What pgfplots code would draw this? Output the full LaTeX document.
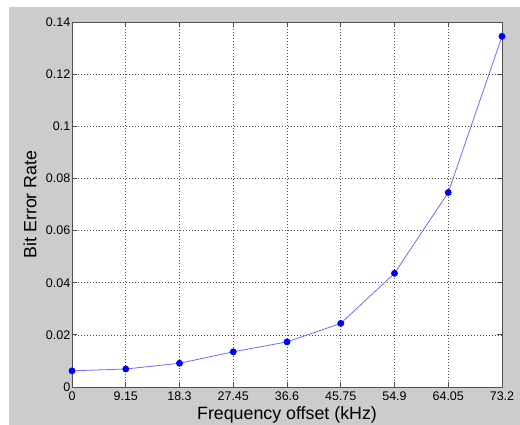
\documentclass[border=0pt]{standalone}
\usepackage{fontspec}
\setmainfont{Liberation Sans}
\usepackage{pgfplots}
\pgfplotsset{compat=1.18}
\definecolor{figgray}{RGB}{204,204,204}
\definecolor{axgray}{RGB}{80,80,80}
\definecolor{linblue}{RGB}{110,110,255}
\begin{document}
\begin{tikzpicture}[x=1pt,y=1pt]
\useasboundingbox (0,0) rectangle (520,425);
\fill[white] (0,0) rectangle (520,425);
\fill[figgray] (9,0) rectangle (520,418);
\begin{axis}[
  at={(72pt,38pt)}, anchor=south west,
  scale only axis, width=430pt, height=365pt,
  xmin=0, xmax=73.2, ymin=0, ymax=0.14,
  xtick={0,9.15,18.3,27.45,36.6,45.75,54.9,64.05,73.2},
  xticklabels={0,9.15,18.3,27.45,36.6,45.75,54.9,64.05,73.2},
  ytick={0,0.02,0.04,0.06,0.08,0.1,0.12,0.14},
  yticklabels={0,0.02,0.04,0.06,0.08,0.1,0.12,0.14},
  scaled y ticks=false,
  axis background/.style={fill=white},
  axis line style={axgray, line width=0.8pt},
  tick style={axgray, line width=0.8pt},
  tick align=inside, major tick length=5pt,
  grid=major,
  major grid style={axgray, line width=0.6pt, dash pattern=on 1.2pt off 1.8pt},
  tick label style={font=\fontsize{12.5}{14}\selectfont, text=black},
  xticklabel style={yshift=-1pt},
  yticklabel style={inner sep=1.5pt},
  xlabel={Frequency offset (kHz)},
  ylabel={Bit Error Rate},
  label style={font=\fontsize{17.8}{20}\selectfont},
  xlabel style={at={(axis description cs:0.5,-0.0767)}, anchor=center},
  ylabel style={at={(axis description cs:-0.0977,0.5)}, anchor=center},
]
\addplot[color=linblue, line width=0.8pt, mark=*, mark size=3pt,
  mark options={fill=blue, draw=blue}] coordinates {
(0,0.0062) (9.15,0.0069) (18.3,0.0091) (27.45,0.0135) (36.6,0.0173)
(45.75,0.0244) (54.9,0.0436) (64.05,0.0746) (73.2,0.1345)
};
\end{axis}
\end{tikzpicture}
\end{document}
